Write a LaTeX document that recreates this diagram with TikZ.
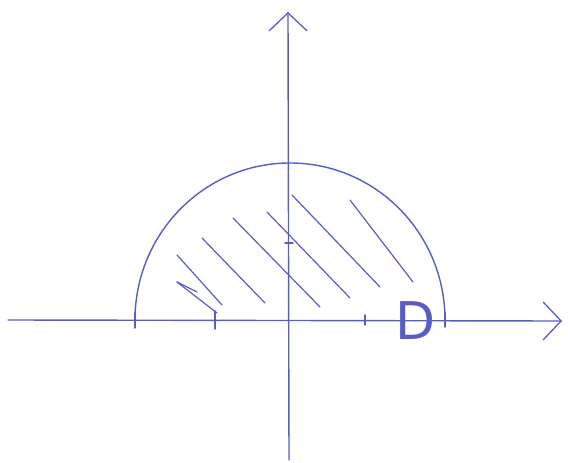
\documentclass[tikz,border=0pt]{standalone}
\usepackage{fontspec}
\setmainfont{DejaVu Sans}
\usetikzlibrary{arrows.meta}
\definecolor{pen}{RGB}{88,92,200}
\begin{document}
\begin{tikzpicture}[x=1pt, y=-1pt, pen line/.style={draw=pen, line width=1.4pt, line cap=round},
        axis/.style={pen line, -{Straight Barb[length=18pt, width=38pt, line width=1.3pt]}},
        hatch/.style={pen line, line width=1.2pt}]
    \useasboundingbox (0,0) rectangle (568,463);
    % axes
    \coordinate (xl) at (8,320);
    \coordinate (xr) at (562,321);
    \coordinate (yb) at (289,460);
    \coordinate (yt) at (288,12);
    \draw[axis] (xl) -- (xr);
    \draw[axis] (yb) -- (yt);
    % half disc
    \coordinate (a) at (135,320);
    \coordinate (b) at (445,320);
    \draw[pen line] (a) arc[start angle=180, end angle=0, x radius=155, y radius=-157];
    % ticks
    \foreach \x/\h in {135/8,215/9,365/5,445/7} {
        \draw[pen line] (\x,320-\h) -- (\x,320+\h);
    }
    \draw[pen line] (285,243) -- (293,243);
    % hatching
    \foreach \i/\sx/\sy/\ex/\ey in {1/177/282/217/313, 2/177/255/222/305, 3/202/238/265/303,
                                     4/233/218/320/307, 5/267/212/350/298, 6/292/195/380/287, 7/350/200/413/282} {
        \coordinate (h\i s) at (\sx,\sy);
        \coordinate (h\i e) at (\ex,\ey);
        \draw[hatch] (h\i s) -- (h\i e);
    }
    \draw[hatch] (h1s) -- (197,292);
    % region label
    \node[text=pen, inner sep=0pt, font=\fontsize{52}{52}\selectfont] (D) at (416,321) {D};
\end{tikzpicture}
\end{document}
